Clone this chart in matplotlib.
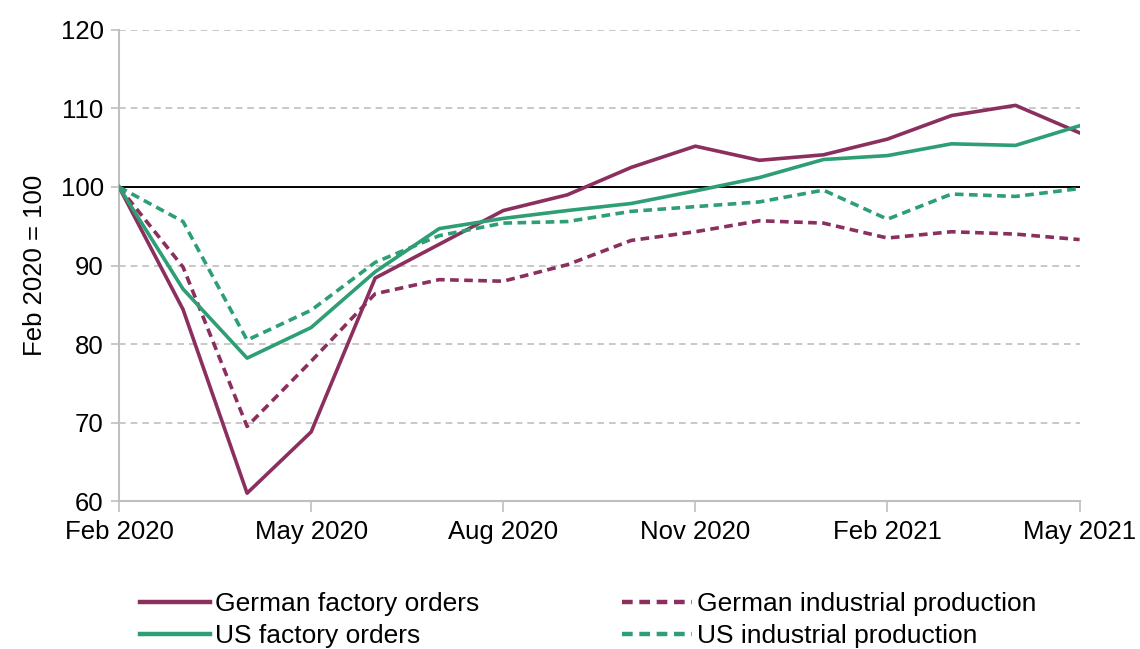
import matplotlib
matplotlib.use("Agg")
import matplotlib.pyplot as plt
import numpy as np

months = ["Feb 2020", "Mar 2020", "Apr 2020", "May 2020", "Jun 2020", "Jul 2020",
          "Aug 2020", "Sep 2020", "Oct 2020", "Nov 2020", "Dec 2020", "Jan 2021",
          "Feb 2021", "Mar 2021", "Apr 2021", "May 2021"]
german_orders = [100, 84.4, 61.0, 68.8, 88.4, 92.7, 97.0, 99.0, 102.5, 105.2, 103.4, 104.1, 106.1, 109.1, 110.4, 106.9]
german_prod = [100, 89.8, 69.5, 77.8, 86.4, 88.2, 88.0, 90.1, 93.2, 94.3, 95.7, 95.4, 93.5, 94.3, 94.0, 93.3]
us_orders = [100, 87.0, 78.2, 82.1, 89.2, 94.7, 96.0, 97.0, 97.9, 99.5, 101.2, 103.5, 104.0, 105.5, 105.3, 107.8]
us_prod = [100, 95.6, 80.5, 84.3, 90.4, 93.8, 95.4, 95.6, 96.9, 97.5, 98.1, 99.6, 95.9, 99.1, 98.8, 99.8]
tick_labels = ["Feb 2020", "May 2020", "Aug 2020", "Nov 2020", "Feb 2021", "May 2021"]

purple = "#8A2F5E"
green = "#2E9E74"

plt.rcParams['font.family'] = ['Liberation Sans', 'DejaVu Sans']
fig = plt.figure(figsize=(11.4, 6.49), dpi=100)
ax = fig.add_axes([0.1044, 0.228, 0.8426, 0.7258])

x = np.arange(len(months))
ax.axhline(100, color="black", lw=1.4, zorder=2)
ax.plot(x, german_orders, color=purple, lw=2.6, label="German factory orders", zorder=3)
ax.plot(x, german_prod, color=purple, lw=2.6, ls=(0, (2.4, 1.5)), label="German industrial production", zorder=3)
ax.plot(x, us_orders, color=green, lw=2.6, label="US factory orders", zorder=3)
ax.plot(x, us_prod, color=green, lw=2.6, ls=(0, (2.4, 1.5)), label="US industrial production", zorder=3)

ax.set_xlim(0, len(months) - 1)
ax.set_ylim(60, 120)
ax.set_yticks(range(60, 121, 10))
tick_pos = [months.index(t) for t in tick_labels]
ax.set_xticks(tick_pos)
ax.set_xticklabels(tick_labels)
ax.tick_params(axis='x', length=8, width=1.2, color="#BFBFBF", labelsize=18.5, pad=6)
ax.tick_params(axis='y', length=6, width=1.2, color="#BFBFBF", labelsize=18.5, pad=5)
ax.yaxis.grid(True, color="#BFBFBF", ls=(0, (4, 3)), lw=1.2)
ax.set_axisbelow(True)
for s in ["top", "right"]:
    ax.spines[s].set_visible(False)
for s in ["left", "bottom"]:
    ax.spines[s].set_color("#BFBFBF")
    ax.spines[s].set_linewidth(1.5)
ax.set_ylabel("Feb 2020 = 100", fontsize=18.5, labelpad=10)

handles, labels = ax.get_legend_handles_labels()
order = [0, 2, 1, 3]
leg = fig.legend([handles[i] for i in order], [labels[i] for i in order],
                 loc="upper left", bbox_to_anchor=(0.1228, 1 - 592 / 649), ncol=2,
                 frameon=False, fontsize=19, handlelength=2.65, handletextpad=0.2,
                 columnspacing=5.4, labelspacing=0.3, borderpad=0, borderaxespad=0)
for h in leg.legend_handles:
    h.set_linewidth(3.2)
fig.savefig("out.png", dpi=100)
